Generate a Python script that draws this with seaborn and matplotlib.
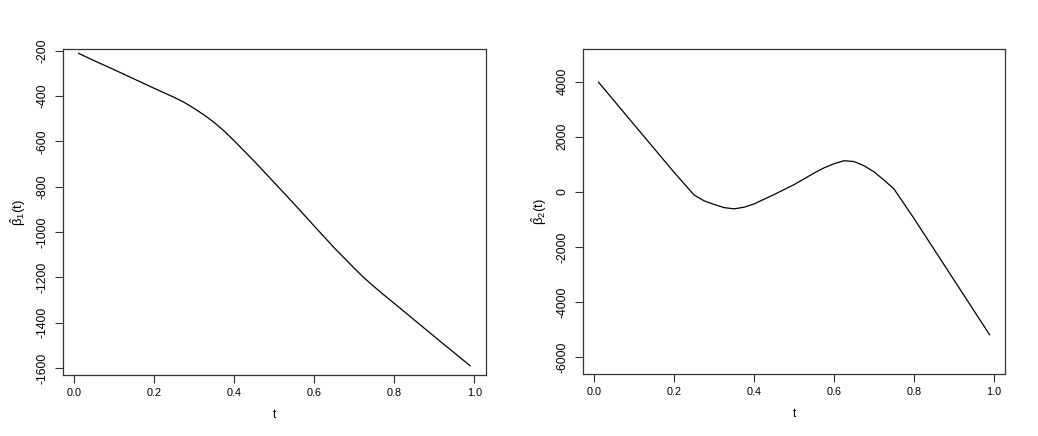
import numpy as np
import pandas as pd
import matplotlib
matplotlib.use("Agg")
import matplotlib.pyplot as plt
import seaborn as sns

# valores
t_b1 = [0.01, 0.05, 0.10, 0.15, 0.20, 0.25, 0.275, 0.30, 0.325, 0.35, 0.375,
        0.40, 0.45, 0.50, 0.55, 0.60, 0.65, 0.70, 0.725, 0.75, 0.775, 0.80,
        0.85, 0.90, 0.95, 0.99]
beta1 = [-211, -244, -284, -325, -366, -406, -428, -455, -484, -517, -555,
         -598, -688, -782, -877, -974, -1070, -1160, -1203, -1242, -1279, -1315,
         -1388, -1461, -1533, -1591]

t_b2 = [0.01, 0.05, 0.10, 0.15, 0.20, 0.25, 0.275, 0.30, 0.325, 0.35, 0.375,
        0.40, 0.45, 0.50, 0.55, 0.575, 0.60, 0.625, 0.65, 0.675, 0.70,
        0.725, 0.75, 0.80, 0.85, 0.90, 0.95, 0.99]
beta2 = [3990, 3297, 2431, 1566, 700, -120, -330, -460, -575, -620, -560,
         -440, -100, 260, 680, 870, 1020, 1130, 1100, 950, 730,
         430, 110, -958, -2074, -3190, -4306, -5200]

xticks = [0.0, 0.2, 0.4, 0.6, 0.8, 1.0]
yticks1 = [-200, -400, -600, -800, -1000, -1200, -1400, -1600]
yticks2 = [4000, 2000, 0, -2000, -4000, -6000]

sns.set_theme(style="white")
plt.rcParams['font.family'] = ['Liberation Sans', 'DejaVu Sans']
plt.rcParams['mathtext.fontset'] = 'custom'
plt.rcParams['mathtext.rm'] = 'Liberation Sans'
plt.rcParams['mathtext.it'] = 'Liberation Sans'
plt.rcParams['text.color'] = 'black'
plt.rcParams['axes.labelcolor'] = 'black'
plt.rcParams['xtick.color'] = 'black'
plt.rcParams['ytick.color'] = 'black'

fig = plt.figure(figsize=(10.38, 4.36), dpi=100)
ax1 = fig.add_axes([0.0604, 0.1388, 0.4078, 0.7489])
ax2 = fig.add_axes([0.5614, 0.1411, 0.4071, 0.7457])

df1 = pd.DataFrame({'t': t_b1, 'b': beta1})
df2 = pd.DataFrame({'t': t_b2, 'b': beta2})

paneles = [
    (ax1, df1, yticks1, (-1633, -192), r'$\hat{\beta}_1(t)$'),
    (ax2, df2, yticks2, (-6640, 5178), r'$\hat{\beta}_2(t)$'),
]

for ax, df, yt, ylim, ylab in paneles:
    sns.lineplot(data=df, x='t', y='b', ax=ax, color='black', linewidth=0.9)
    ax.set_xlim(-0.0292, 1.0292)
    ax.set_ylim(*ylim)
    ax.set_xticks(xticks)
    ax.set_xticklabels([f"{v:.1f}" for v in xticks], fontsize=7.8)
    ax.set_yticks(yt)
    ax.set_yticklabels([f"{v}" for v in yt], fontsize=8.8, rotation=90, va='center')
    ax.tick_params(axis='both', direction='out', length=6, width=0.8,
                   color='#333333', pad=3, bottom=True, left=True)
    ax.tick_params(axis='y', pad=4)
    for sp in ax.spines.values():
        sp.set_color('#333333')
        sp.set_linewidth(0.9)
    ax.set_xlabel('t', fontsize=8.5, labelpad=8)
    ax.set_ylabel(ylab, fontsize=9.5, labelpad=6)

fig.savefig('out.png', dpi=100, facecolor='white')
